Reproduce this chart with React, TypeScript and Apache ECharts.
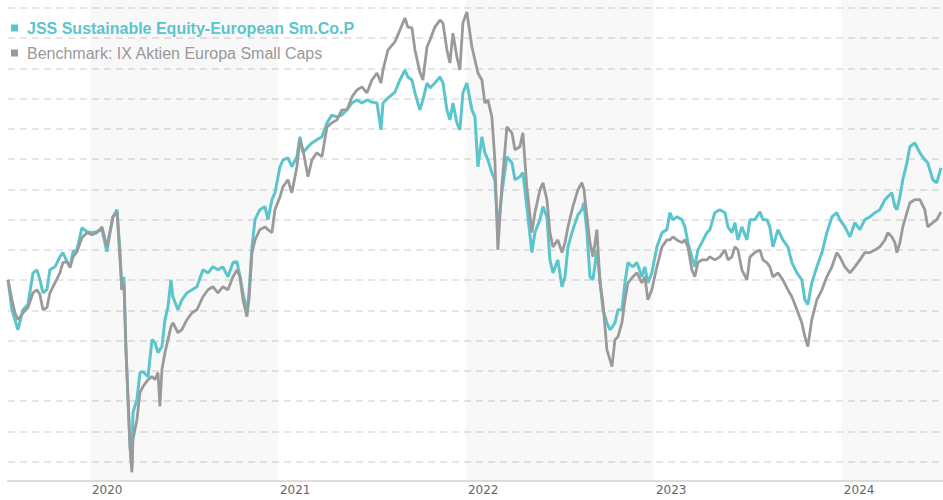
import React, { useEffect, useRef } from 'react';
import * as echarts from 'echarts';

// Time points (decimal years)
const dates: number[] = [
  2019.564, 2019.585, 2019.601, 2019.617, 2019.644, 2019.670, 2019.697, 2019.718, 2019.734, 2019.750,
  2019.771, 2019.787, 2019.814, 2019.840, 2019.856, 2019.878, 2019.894, 2019.910, 2019.931, 2019.957,
  2019.984, 2020.011, 2020.037, 2020.064, 2020.090, 2020.106, 2020.122, 2020.144, 2020.160, 2020.170,
  2020.181, 2020.191, 2020.202, 2020.213, 2020.223, 2020.229, 2020.250, 2020.266, 2020.282, 2020.309,
  2020.330, 2020.346, 2020.362, 2020.372, 2020.383, 2020.399, 2020.415, 2020.431, 2020.441, 2020.468,
  2020.489, 2020.516, 2020.543, 2020.569, 2020.601, 2020.628, 2020.654, 2020.681, 2020.707, 2020.734,
  2020.761, 2020.782, 2020.798, 2020.814, 2020.835, 2020.846, 2020.862, 2020.878, 2020.904, 2020.931,
  2020.947, 2020.968, 2020.984, 2021.011, 2021.027, 2021.053, 2021.074, 2021.101, 2021.117, 2021.133,
  2021.160, 2021.181, 2021.207, 2021.234, 2021.261, 2021.287, 2021.314, 2021.340, 2021.367, 2021.394,
  2021.420, 2021.447, 2021.473, 2021.500, 2021.527, 2021.548, 2021.559, 2021.585, 2021.622, 2021.649,
  2021.676, 2021.691, 2021.713, 2021.729, 2021.755, 2021.771, 2021.793, 2021.809, 2021.835, 2021.862,
  2021.878, 2021.899, 2021.915, 2021.931, 2021.952, 2021.968, 2021.984, 2022.005, 2022.032, 2022.048,
  2022.064, 2022.085, 2022.101, 2022.117, 2022.138, 2022.154, 2022.170, 2022.191, 2022.218, 2022.245,
  2022.261, 2022.287, 2022.303, 2022.324, 2022.351, 2022.367, 2022.394, 2022.410, 2022.431, 2022.447,
  2022.463, 2022.489, 2022.511, 2022.527, 2022.543, 2022.569, 2022.596, 2022.617, 2022.628, 2022.644,
  2022.660, 2022.676, 2022.697, 2022.713, 2022.729, 2022.750, 2022.766, 2022.777, 2022.793, 2022.809,
  2022.830, 2022.846, 2022.862, 2022.888, 2022.910, 2022.936, 2022.952, 2022.968, 2022.989, 2023.016,
  2023.043, 2023.069, 2023.085, 2023.101, 2023.122, 2023.149, 2023.165, 2023.181, 2023.202, 2023.218,
  2023.234, 2023.255, 2023.282, 2023.298, 2023.324, 2023.351, 2023.378, 2023.394, 2023.415, 2023.431,
  2023.447, 2023.468, 2023.495, 2023.511, 2023.537, 2023.564, 2023.580, 2023.601, 2023.617, 2023.633,
  2023.660, 2023.686, 2023.713, 2023.734, 2023.761, 2023.787, 2023.803, 2023.819, 2023.840, 2023.867,
  2023.894, 2023.920, 2023.947, 2023.973, 2023.989, 2024.016, 2024.043, 2024.069, 2024.096, 2024.122,
  2024.149, 2024.176, 2024.202, 2024.229, 2024.245, 2024.266, 2024.282, 2024.293, 2024.309, 2024.324,
  2024.346, 2024.362, 2024.388, 2024.415, 2024.441, 2024.457, 2024.484, 2024.505, 2024.527,
];

// JSS Sustainable Equity-European Sm.Co.P
const fundValues: number[] = [
  70.1, 60.2, 56.9, 53.6, 60.2, 61.9, 72.4, 73.4, 70.1, 65.8,
  66.8, 73.4, 74.4, 77.7, 79.1, 76.1, 74.4, 79.4, 80.0, 87.3,
  86.0, 85.7, 86.0, 86.7, 79.4, 85.7, 90.9, 93.3, 79.1, 66.8,
  71.1, 48.0, 31.5, 15.0, 8.4, 26.2, 30.5, 39.4, 39.7, 38.1,
  50.3, 49.3, 46.0, 47.0, 48.0, 56.9, 61.2, 70.1, 64.5, 60.2,
  63.5, 65.8, 66.8, 67.8, 73.4, 72.4, 74.4, 73.4, 74.4, 71.1,
  75.8, 76.1, 71.1, 65.8, 59.2, 65.8, 81.0, 90.0, 93.3, 94.3,
  90.0, 96.6, 98.9, 107.5, 109.8, 110.4, 107.5, 110.8, 117.4, 112.1,
  114.1, 115.4, 116.4, 117.4, 122.0, 124.6, 124.0, 124.6, 126.3, 128.6,
  129.6, 128.6, 129.6, 128.9, 128.6, 119.7, 128.6, 130.2, 132.2, 136.2,
  139.5, 137.2, 136.2, 131.9, 126.3, 129.6, 135.2, 133.6, 135.2, 137.2,
  135.2, 126.3, 123.0, 128.6, 122.0, 119.7, 131.9, 135.2, 126.3, 124.0,
  107.5, 117.4, 112.1, 109.8, 105.5, 103.2, 86.7, 98.9, 110.8, 108.8,
  103.2, 104.2, 105.5, 94.3, 79.1, 85.7, 90.0, 94.3, 90.9, 76.7,
  72.4, 76.7, 67.8, 71.1, 81.0, 86.7, 91.6, 93.3, 95.6, 85.7,
  71.1, 70.1, 80.0, 70.1, 60.2, 55.9, 53.6, 54.3, 55.9, 60.2,
  60.2, 69.1, 75.8, 74.4, 75.8, 71.1, 74.4, 69.1, 72.4, 81.0,
  85.7, 86.7, 92.3, 90.0, 90.9, 90.0, 87.6, 82.4, 77.7, 74.4,
  80.0, 82.4, 85.7, 86.7, 92.3, 93.3, 92.3, 87.6, 85.7, 89.0,
  83.3, 87.6, 83.3, 90.0, 90.0, 92.6, 90.0, 90.0, 87.6, 81.0,
  86.7, 83.3, 81.0, 75.8, 72.4, 70.1, 63.5, 61.9, 69.1, 74.4,
  79.1, 85.7, 90.9, 92.3, 90.0, 87.6, 84.3, 89.0, 86.7, 90.0,
  90.9, 92.3, 93.3, 96.6, 97.6, 98.9, 94.3, 93.3, 97.6, 103.2,
  108.8, 114.1, 115.4, 112.1, 109.8, 108.8, 103.2, 102.2, 107.1,
];

// Benchmark: IX Aktien Europa Small Caps
const benchmarkValues: number[] = [
  70.1, 63.5, 59.2, 56.9, 59.2, 60.9, 65.8, 66.8, 65.2, 60.2,
  60.9, 65.8, 69.1, 72.4, 75.8, 76.1, 74.1, 77.7, 79.4, 84.0,
  85.7, 85.0, 85.7, 87.6, 81.0, 85.7, 90.9, 92.6, 76.7, 66.8,
  68.5, 48.0, 31.5, 15.0, 6.4, 17.3, 23.9, 32.8, 34.8, 37.1,
  38.1, 37.1, 39.4, 28.2, 40.4, 46.0, 50.3, 54.6, 55.9, 52.6,
  53.6, 56.9, 59.2, 60.2, 64.5, 66.8, 67.8, 65.8, 67.8, 66.8,
  71.1, 73.4, 71.1, 63.5, 57.9, 63.5, 79.1, 83.3, 86.7, 87.6,
  86.7, 85.7, 93.3, 97.6, 100.9, 103.2, 98.9, 107.5, 116.4, 113.1,
  104.2, 109.8, 112.1, 110.8, 120.7, 122.0, 123.0, 126.3, 126.3, 130.6,
  132.9, 133.9, 131.9, 136.2, 138.5, 135.2, 139.5, 146.1, 148.8, 152.7,
  156.7, 153.7, 153.4, 146.1, 138.8, 136.2, 147.1, 149.4, 153.7, 156.0,
  155.0, 146.1, 141.8, 151.7, 143.8, 139.5, 155.0, 158.7, 147.1, 142.8,
  138.5, 136.2, 128.6, 129.6, 124.0, 109.8, 80.0, 100.9, 120.7, 118.7,
  113.1, 114.1, 118.7, 100.9, 85.7, 92.3, 99.9, 102.2, 96.6, 85.7,
  81.0, 83.3, 79.1, 82.4, 87.6, 94.3, 99.9, 102.2, 99.9, 90.9,
  82.4, 77.7, 86.7, 69.1, 62.5, 47.0, 43.7, 41.4, 50.3, 51.3,
  55.9, 63.5, 69.1, 71.1, 72.4, 69.1, 71.1, 63.5, 66.8, 74.4,
  81.0, 83.3, 83.3, 84.3, 83.3, 82.4, 83.3, 81.0, 73.4, 71.1,
  75.8, 76.7, 76.7, 77.7, 76.7, 77.7, 80.0, 76.7, 77.7, 81.0,
  80.0, 73.4, 70.1, 77.7, 79.1, 80.0, 76.7, 75.8, 74.4, 71.1,
  72.4, 70.1, 66.8, 64.5, 60.2, 55.9, 51.3, 48.0, 56.9, 63.5,
  66.8, 71.1, 74.4, 79.1, 77.7, 74.4, 72.4, 74.4, 76.7, 79.1,
  79.1, 80.0, 81.0, 83.3, 85.7, 84.3, 82.4, 79.1, 82.4, 87.6,
  92.3, 95.6, 96.6, 96.6, 93.3, 87.6, 89.0, 90.0, 92.6,
];

const seriesNames = [
  'JSS Sustainable Equity-European Sm.Co.P',
  'Benchmark: IX Aktien Europa Small Caps',
];

const xStart = 2019.564;
const xEnd = 2024.538;
const shadedYears: [number, number][] = [
  [2020, 2021],
  [2022, 2023],
  [2024, xEnd],
];

const TEAL = '#5bc5cd';
const GREY = '#9a9a9a';

export default function App() {
  const ref = useRef<HTMLDivElement>(null);

  useEffect(() => {
    if (!ref.current) return;
    const chart = echarts.init(ref.current, null, { renderer: 'svg' });
    const fundData = dates.map((d, i) => [d, fundValues[i]]);
    const benchData = dates.map((d, i) => [d, benchmarkValues[i]]);

    chart.setOption({
      animation: false,
      backgroundColor: '#ffffff',
      grid: { left: 8, right: 0, top: 0, bottom: 19.5, containLabel: false },
      legend: {
        orient: 'vertical',
        left: 11,
        top: 20,
        padding: 0,
        itemWidth: 7,
        itemHeight: 7,
        itemGap: 9,
        icon: 'rect',
        selectedMode: false,
        textStyle: {
          fontFamily: 'Liberation Sans, Arial, sans-serif',
          fontSize: 16,
          padding: [0, 0, 0, 4],
        },
        data: [
          { name: seriesNames[0], textStyle: { color: TEAL, fontWeight: 'bold' } },
          { name: seriesNames[1], textStyle: { color: '#999999', fontWeight: 'normal' } },
        ],
      },
      xAxis: {
        type: 'value',
        min: xStart,
        max: xEnd,
        splitNumber: 5,
        minInterval: 1,
        maxInterval: 1,
        axisLine: { show: true, lineStyle: { color: '#dddddd', width: 2 } },
        axisTick: { show: false },
        splitLine: { show: false },
        axisLabel: {
          show: true,
          align: 'left',
          margin: 3,
          color: '#666666',
          fontFamily: 'DejaVu Sans, Verdana, sans-serif',
          fontSize: 12,
          padding: [0, 0, 0, 2],
          showMinLabel: false,
          showMaxLabel: false,
          formatter: (v: number) => (Math.abs(v - Math.round(v)) < 1e-6 ? String(Math.round(v)) : ''),
        },
      },
      yAxis: {
        type: 'value',
        min: 3.72,
        max: 162.65,
        splitNumber: 15,
        minInterval: 10,
        maxInterval: 10,
        axisLine: { show: false },
        axisTick: { show: false },
        axisLabel: { show: false },
        splitLine: {
          show: true,
          showMinLine: false,
          showMaxLine: false,
          lineStyle: { color: '#dedede', width: 1.5, type: [7, 5] },
        },
      },
      series: [
        {
          name: seriesNames[0],
          type: 'line',
          data: fundData,
          symbol: 'none',
          showSymbol: false,
          lineStyle: { color: TEAL, width: 3 },
          itemStyle: { color: TEAL },
          z: 2,
          markArea: {
            silent: true,
            itemStyle: { color: 'rgba(0,0,0,0.028)' },
            data: shadedYears.map(([a, b]) => [{ xAxis: a }, { xAxis: b }]),
          },
        },
        {
          name: seriesNames[1],
          type: 'line',
          data: benchData,
          symbol: 'none',
          showSymbol: false,
          lineStyle: { color: GREY, width: 2.8 },
          itemStyle: { color: GREY },
          z: 3,
        },
      ],
    });

    return () => chart.dispose();
  }, []);

  return (
    <div
      ref={ref}
      style={{ position: 'fixed', left: 0, top: 0, width: 943, height: 500, background: '#fff' }}
    />
  );
}
